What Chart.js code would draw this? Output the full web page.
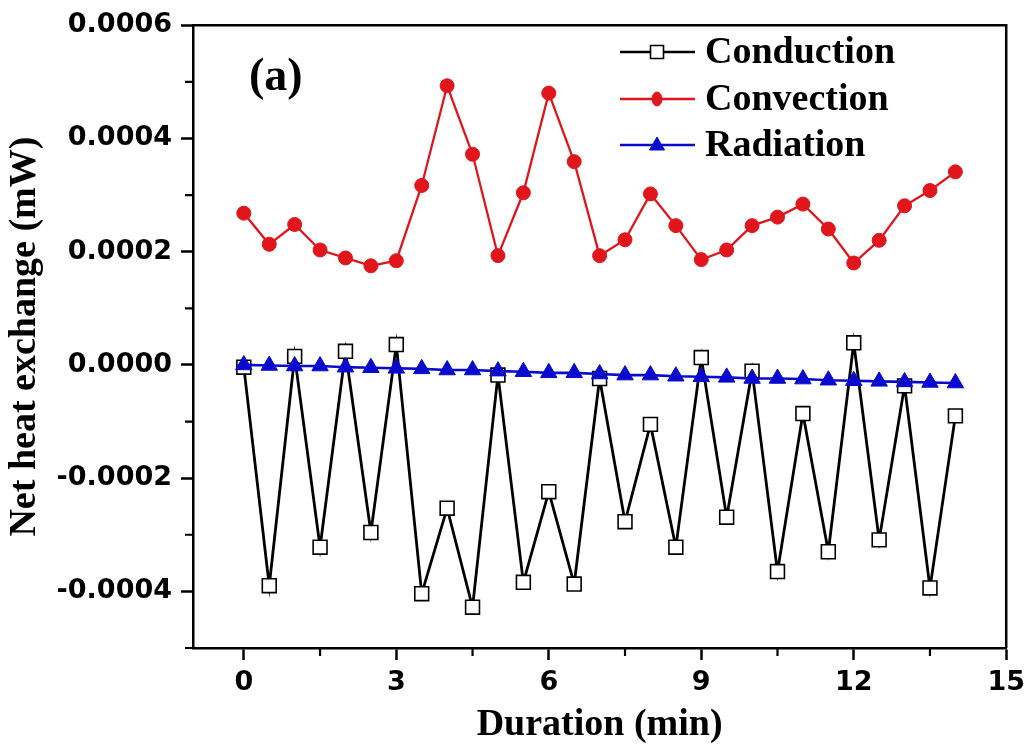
<!DOCTYPE html>
<html lang="en">
<head>
<meta charset="UTF-8" />
<title>Net heat exchange</title>
<script src="https://cdn.jsdelivr.net/npm/chart.js"></script>
<style>
  body { margin: 0; background: #fff; }
  canvas { display: block; }
</style>
</head>
<body>
<canvas id="heatChart" width="1032" height="748"></canvas>
<script>
  // time points (min)
  const times = [0, 0.5, 1, 1.5, 2, 2.5, 3, 3.5, 4, 4.5, 5, 5.5, 6, 6.5, 7,
    7.5, 8, 8.5, 9, 9.5, 10, 10.5, 11, 11.5, 12, 12.5, 13, 13.5, 14];

  // values (mW)
  const conduction = [-0.000004, -0.000390, 0.000015, -0.000322, 0.000024, -0.000296, 0.000036,
    -0.000404, -0.000253, -0.000428, -0.000018, -0.000384, -0.000224, -0.000387, -0.000024,
    -0.000277, -0.000105, -0.000322, 0.000013, -0.000269, -0.000011, -0.000365, -0.000086,
    -0.000330, 0.000039, -0.000309, -0.000037, -0.000394, -0.000090];
  const convection = [0.000268, 0.000213, 0.000248, 0.000203, 0.000189, 0.000175, 0.000184,
    0.000317, 0.000493, 0.000372, 0.000193, 0.000304, 0.000480, 0.000359, 0.000193,
    0.000221, 0.000302, 0.000246, 0.000186, 0.000203, 0.000246, 0.000261, 0.000284,
    0.000240, 0.000180, 0.000220, 0.000281, 0.000308, 0.000341];
  const radiation = [0.000000, -0.000001, -0.000002, -0.000002, -0.000004, -0.000005, -0.000006,
    -0.000007, -0.000009, -0.000009, -0.000011, -0.000012, -0.000014, -0.000014, -0.000016,
    -0.000018, -0.000018, -0.000020, -0.000021, -0.000022, -0.000024, -0.000024, -0.000025,
    -0.000027, -0.000028, -0.000029, -0.000030, -0.000031, -0.000032];

  const xTicks = [0, 3, 6, 9, 12, 15];
  const xMinor = [1.5, 4.5, 7.5, 10.5, 13.5];
  const yTicks = [-0.0004, -0.0002, 0, 0.0002, 0.0004, 0.0006];
  const yMinor = [-0.0005, -0.0003, -0.0001, 0.0001, 0.0003, 0.0005];

  const RED = '#e0161c';
  const BLUE = '#0a0acf';

  const toPoints = arr => arr.map((v, i) => ({ x: times[i], y: v }));

  const tickFont = { family: 'DejaVu Sans', weight: 'bold', size: 27 };
  const titleFont = { family: 'Liberation Serif', weight: 'bold', size: 38 };

  const series = [
    { label: 'Conduction', data: toPoints(conduction), borderColor: '#000', borderWidth: 2.8,
      pointStyle: 'rect', pointRadius: 9.8, pointBackgroundColor: '#fff', pointBorderColor: '#000',
      pointBorderWidth: 1.6, order: 3 },
    { label: 'Convection', data: toPoints(convection), borderColor: RED, borderWidth: 2.3,
      pointStyle: 'circle', pointRadius: 7, pointBackgroundColor: RED, pointBorderColor: RED,
      pointBorderWidth: 1, order: 2 },
    { label: 'Radiation', data: toPoints(radiation), borderColor: BLUE, borderWidth: 2.6,
      pointStyle: 'triangle', pointRadius: 9.5, pointBackgroundColor: BLUE, pointBorderColor: BLUE,
      pointBorderWidth: 1, order: 1 }
  ];

  function marker(ctx, ds, x, y) {
    ctx.fillStyle = ds.pointBackgroundColor;
    ctx.strokeStyle = ds.pointBorderColor;
    ctx.lineWidth = ds.pointBorderWidth;
    ctx.beginPath();
    if (ds.pointStyle === 'rect') {
      ctx.rect(x - 6.5, y - 6.5, 13, 13);
    } else if (ds.pointStyle === 'circle') {
      ctx.ellipse(x, y, 5, 7, 0, 0, Math.PI * 2);
    } else {
      ctx.moveTo(x, y - 8);
      ctx.lineTo(x + 7.5, y + 5);
      ctx.lineTo(x - 7.5, y + 5);
      ctx.closePath();
    }
    ctx.fill();
    ctx.stroke();
  }

  const extras = {
    id: 'extras',
    afterDraw(chart) {
      const { ctx, chartArea: a, scales: { x, y } } = chart;
      ctx.save();
      ctx.strokeStyle = '#000';
      ctx.lineWidth = 2.2;
      ctx.beginPath();
      xMinor.forEach(v => {
        const px = x.getPixelForValue(v);
        ctx.moveTo(px, a.bottom);
        ctx.lineTo(px, a.bottom + 8);
      });
      yMinor.forEach(v => {
        const py = y.getPixelForValue(v);
        ctx.moveTo(a.left, py);
        ctx.lineTo(a.left - 8, py);
      });
      ctx.stroke();

      // top and right frame
      ctx.lineWidth = 2.5;
      ctx.beginPath();
      ctx.moveTo(a.left, a.top);
      ctx.lineTo(a.right, a.top);
      ctx.lineTo(a.right, a.bottom);
      ctx.stroke();

      // legend inside plot
      const rows = [52, 99, 145];
      ctx.font = 'bold 38px "Liberation Serif"';
      ctx.textBaseline = 'alphabetic';
      ctx.textAlign = 'left';
      series.forEach((ds, i) => {
        const ry = rows[i];
        ctx.strokeStyle = ds.borderColor;
        ctx.lineWidth = 2.5;
        ctx.beginPath();
        ctx.moveTo(620, ry);
        ctx.lineTo(695, ry);
        ctx.stroke();
        marker(ctx, ds, 657, ry);
        ctx.fillStyle = '#000';
        ctx.fillText(ds.label, 705, ry + 11);
      });

      // panel label
      ctx.font = 'bold 46px "Liberation Serif"';
      ctx.fillText('(a)', 249, 90);
      ctx.restore();
    }
  };

  new Chart(document.getElementById('heatChart'), {
    type: 'line',
    data: { datasets: series.map(s => Object.assign({ fill: false, tension: 0 }, s)) },
    options: {
      responsive: false,
      animation: false,
      layout: { padding: { top: 22, right: 24, left: 0, bottom: 0 } },
      plugins: { legend: { display: false }, tooltip: { enabled: false } },
      scales: {
        x: {
          type: 'linear',
          min: -1,
          max: 15,
          afterBuildTicks: s => { s.ticks = xTicks.map(v => ({ value: v })); },
          afterFit: s => { s.height = 100; },
          grid: { drawOnChartArea: false, tickLength: 12, tickWidth: 2.5, tickColor: '#000' },
          border: { display: true, color: '#000', width: 2.5 },
          ticks: { font: tickFont, color: '#000', padding: 7, maxRotation: 0, autoSkip: false,
            callback: v => String(v) },
          title: { display: true, text: 'Duration (min)', font: titleFont, color: '#000',
            padding: { top: 0, bottom: 0 } }
        },
        y: {
          min: -0.0005,
          max: 0.0006,
          afterBuildTicks: s => { s.ticks = yTicks.map(v => ({ value: v })); },
          afterFit: s => { s.width = 193; },
          grid: { drawOnChartArea: false, tickLength: 12, tickWidth: 2.5, tickColor: '#000' },
          border: { display: true, color: '#000', width: 2.5 },
          ticks: { font: tickFont, color: '#000', padding: 9, autoSkip: false,
            callback: v => v.toFixed(4) },
          title: { display: true, text: 'Net heat exchange (mW)', font: titleFont, color: '#000',
            padding: { top: 2, bottom: 0 } }
        }
      }
    },
    plugins: [extras]
  });
</script>
</body>
</html>
